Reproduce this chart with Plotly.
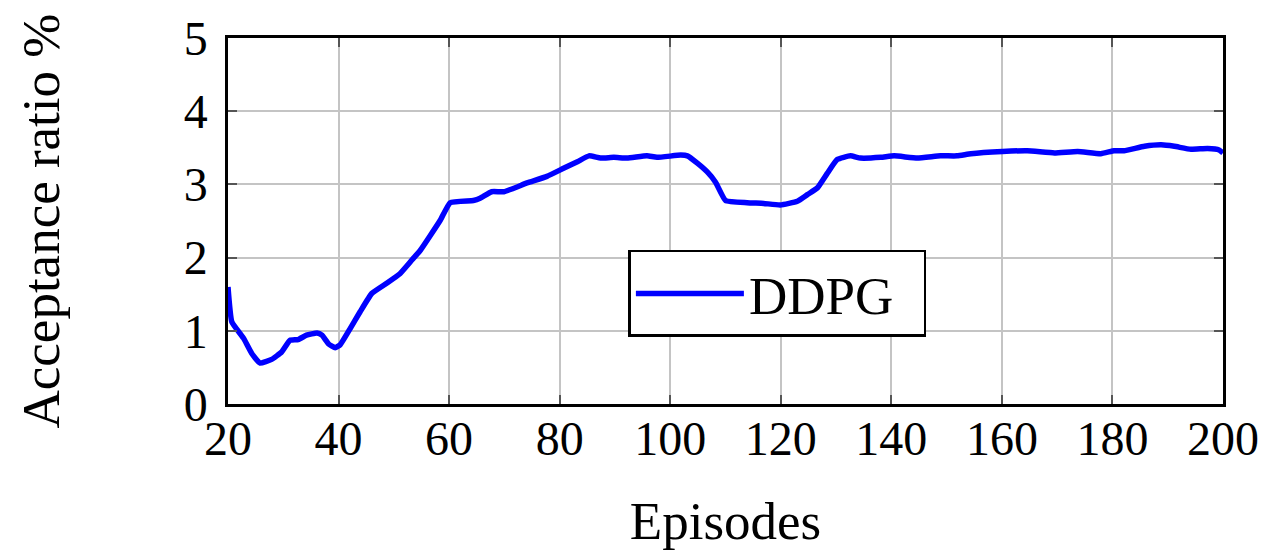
import plotly.graph_objects as go

episodes = [20, 20.7, 22.8, 24.3, 25.8, 27.9, 29.7, 31.2, 32.7, 34.2, 36.1, 37.0, 38.2, 39.4, 40.3,
            42.1, 43.9, 46.0, 48.7, 51.1, 53.3, 54.8, 58.4, 60.2, 64.4, 65.6, 67.7, 69.9, 74.1,
            77.7, 80.7, 83.2, 85.3, 87.4, 89.8, 92.2, 95.8, 97.6, 101.9, 103.1, 104.9, 106.7,
            108.2, 110.0, 113.9, 116.9, 119.9, 123.0, 124.8, 126.6, 128.4, 130.2, 132.6, 134.4,
            138.1, 140.5, 144.7, 148.9, 151.9, 154.4, 160.1, 164.6, 169.5, 173.7, 177.9, 180.3,
            182.1, 185.8, 188.8, 191.2, 194.2, 197.2, 199.3, 200]
ratio = [1.6, 1.12, 0.9, 0.69, 0.56, 0.61, 0.71, 0.87, 0.88, 0.94, 0.97, 0.94, 0.82, 0.77, 0.81,
         1.03, 1.26, 1.51, 1.65, 1.78, 1.97, 2.1, 2.51, 2.75, 2.78, 2.81, 2.90, 2.90, 3.02,
         3.11, 3.22, 3.31, 3.39, 3.36, 3.37, 3.36, 3.39, 3.37, 3.40, 3.39, 3.29, 3.17,
         3.03, 2.78, 2.75, 2.74, 2.72, 2.77, 2.86, 2.95, 3.15, 3.34, 3.39, 3.36,
         3.37, 3.39, 3.36, 3.39, 3.39, 3.42, 3.45, 3.46, 3.43, 3.45, 3.42, 3.46,
         3.46, 3.52, 3.54, 3.52, 3.48, 3.49, 3.47, 3.43]

x_ticks = [20, 40, 60, 80, 100, 120, 140, 160, 180, 200]
y_ticks = [0, 1, 2, 3, 4, 5]

font_family = "Liberation Serif"

fig = go.Figure()
fig.add_trace(go.Scatter(x=episodes, y=ratio, mode="lines", name="DDPG",
                         line=dict(color="#0000ff", width=5.5, shape="spline", smoothing=0.4)))

axis_common = dict(showgrid=True, gridcolor="#c4c4c4", gridwidth=2,
                   showline=True, linecolor="black", linewidth=2.5, mirror="ticks",
                   ticks="inside", ticklen=9, tickwidth=1.5, tickcolor="#555555",
                   zeroline=False, automargin=False,
                   tickfont=dict(family=font_family, size=48, color="black"))

fig.update_layout(
    width=1269, height=551,
    margin=dict(l=228, r=46, t=38, b=147),
    paper_bgcolor="white", plot_bgcolor="white",
    xaxis=dict(range=[20, 200], tickvals=x_ticks, ticktext=[str(t) for t in x_ticks],
               ticklabelstandoff=-9,
               title=dict(text="Episodes", font=dict(family=font_family, size=53, color="black"), standoff=38),
               **axis_common),
    yaxis=dict(range=[0, 5], tickvals=y_ticks, ticktext=[str(t) for t in y_ticks],
               ticklabelstandoff=8,
               title=dict(text="Acceptance ratio %", font=dict(family=font_family, size=53, color="black"), standoff=108),
               **axis_common),
    showlegend=True,
    legend=dict(x=0.4024, y=0.302, xanchor="left", yanchor="middle",
                orientation="h", entrywidth=170, entrywidthmode="pixels",
                bgcolor="white", bordercolor="black", borderwidth=2.5,
                font=dict(family=font_family, size=53, color="black"),
                itemwidth=108),
)

fig.write_html("out.html", config={"displayModeBar": False},
               post_script="document.body.style.margin='0';document.body.style.padding='0';")
